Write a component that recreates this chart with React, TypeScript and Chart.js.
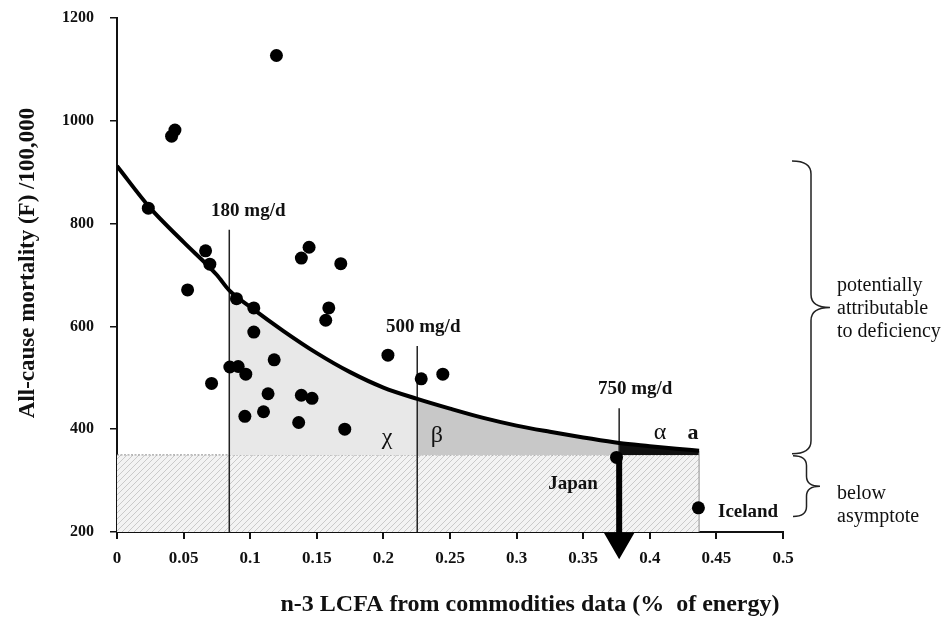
import React, { useEffect, useRef } from "react";
import { Chart, registerables } from "chart.js";

Chart.register(...registerables);

const FONT = "'Liberation Serif', 'Times New Roman', Times, serif";

// Country observations: n-3 LCFA (% of energy) vs all-cause mortality (F) /100,000
const countryX = [
  0.0235, 0.041, 0.0435, 0.053, 0.0665, 0.0697, 0.071, 0.0847, 0.0897, 0.091,
  0.0967, 0.096, 0.1027, 0.1027, 0.11, 0.1134, 0.118, 0.1197, 0.1364, 0.1384,
  0.1384, 0.1442, 0.1464, 0.1567, 0.159, 0.168, 0.171, 0.2034, 0.2284, 0.2446,
  0.375, 0.4365,
];
const countryY = [
  830, 970, 982, 671, 747, 721, 489, 521, 654, 522,
  507, 425, 636, 589, 434, 469, 535, 1127, 413, 466,
  733, 754, 460, 612, 636, 722, 400, 544, 498, 507,
  345, 247,
];

// Fitted curve
const curveX = [
  0, 0.025, 0.05, 0.075, 0.0843, 0.1, 0.125, 0.15, 0.175, 0.2,
  0.2254, 0.25, 0.275, 0.3, 0.325, 0.35, 0.377, 0.4, 0.42, 0.437,
];
const curveY = [
  912, 830, 764, 700, 670, 638, 591, 548, 511, 481,
  459, 440, 422, 407, 395, 384, 373, 367, 362, 358,
];

const asymptoteY = 350;
const axisMinY = 200;
const hatchEndX = 0.437;

// Intake reference lines (180, 500, 750 mg/d)
const intakeX = [0.0843, 0.2254, 0.377];
const intakeTopY = [788, 562, 441];
const intakeText = ["180 mg/d", "500 mg/d", "750 mg/d"];

// Japan arrow
const arrowX = 0.377;
const arrowStartY = 345;
const arrowEndY = 181;

// Axis ticks
const xMin = 0;
const xMax = 0.5;
const xStep = 0.05;
const yMin = 200;
const yMax = 1200;
const yStep = 200;

// Braces on the right (values on the mortality scale)
const braceTop = [922, 352];
const braceBottom = [352, 230];

type Pt = { x: number; y: number };

function curveSegment(x0: number, x1: number): Pt[] {
  const pts: Pt[] = [];
  for (let i = 0; i < curveX.length; i++) {
    if (curveX[i] >= x0 - 1e-9 && curveX[i] <= x1 + 1e-9) pts.push({ x: curveX[i], y: curveY[i] });
  }
  return pts;
}

function makeHatch(): CanvasPattern | string {
  const c = document.createElement("canvas");
  const s = 6;
  c.width = s;
  c.height = s;
  const g = c.getContext("2d");
  if (!g) return "#eeeeee";
  g.fillStyle = "#f3f3f3";
  g.fillRect(0, 0, s, s);
  g.strokeStyle = "#b8b8b8";
  g.lineWidth = 0.7;
  g.beginPath();
  g.moveTo(0, s);
  g.lineTo(s, 0);
  g.moveTo(-1, 1);
  g.lineTo(1, -1);
  g.moveTo(s - 1, s + 1);
  g.lineTo(s + 1, s - 1);
  g.stroke();
  const p = g.createPattern(c, "repeat");
  return p || "#eeeeee";
}

function drawBrace(
  ctx: CanvasRenderingContext2D,
  xEnd: number,
  xTip: number,
  yTop: number,
  yBot: number,
  r: number
) {
  const xs = (xEnd + xTip) / 2;
  const yMid = (yTop + yBot) / 2;
  ctx.beginPath();
  ctx.moveTo(xEnd, yTop);
  ctx.quadraticCurveTo(xs, yTop, xs, yTop + r);
  ctx.lineTo(xs, yMid - r);
  ctx.quadraticCurveTo(xs, yMid, xTip, yMid);
  ctx.quadraticCurveTo(xs, yMid, xs, yMid + r);
  ctx.lineTo(xs, yBot - r);
  ctx.quadraticCurveTo(xs, yBot, xEnd, yBot);
  ctx.stroke();
}

const annotationPlugin = {
  id: "annotations",
  afterDraw(chart: any) {
    const { ctx, scales } = chart;
    const xs = scales.x;
    const ys = scales.y;
    const area = chart.chartArea;
    ctx.save();
    ctx.fillStyle = "#111";
    ctx.textAlign = "center";
    ctx.textBaseline = "middle";

    // intake labels
    const dx = [19, 6, 16];
    ctx.font = `bold 19px ${FONT}`;
    for (let i = 0; i < intakeX.length; i++) {
      const px = xs.getPixelForValue(intakeX[i]);
      const py = ys.getPixelForValue(intakeTopY[i]);
      ctx.fillText(intakeText[i], px + dx[i], py - 19);
    }

    // Greek region labels
    ctx.font = `24px ${FONT}`;
    ctx.fillText("χ", xs.getPixelForValue(0.2027), ys.getPixelForValue(384));
    ctx.fillText("β", xs.getPixelForValue(0.2402), ys.getPixelForValue(388));
    ctx.fillText("α", xs.getPixelForValue(0.4076), ys.getPixelForValue(394));
    ctx.font = `bold 22px ${FONT}`;
    ctx.fillText("a", xs.getPixelForValue(0.4324), ys.getPixelForValue(392));

    // country labels
    ctx.font = `bold 19px ${FONT}`;
    ctx.fillText("Japan", xs.getPixelForValue(0.3423), ys.getPixelForValue(293));
    ctx.textAlign = "left";
    ctx.fillText("Iceland", xs.getPixelForValue(0.4512), ys.getPixelForValue(239));

    // braces
    ctx.strokeStyle = "#222";
    ctx.lineWidth = 1.5;
    const r = area.right;
    const t0 = ys.getPixelForValue(braceTop[0]);
    const b0 = ys.getPixelForValue(braceBottom[0]);
    drawBrace(ctx, r + 9, r + 47, t0, b0, 13);
    const t1 = ys.getPixelForValue(braceTop[1]) + 2;
    const b1 = ys.getPixelForValue(braceBottom[1]);
    drawBrace(ctx, r + 10, r + 37, t1, b1, 10);

    ctx.font = `20px ${FONT}`;
    ctx.textAlign = "left";
    const m0 = (t0 + b0) / 2;
    ctx.fillText("potentially", r + 54, m0 - 22);
    ctx.fillText("attributable", r + 54, m0 + 1);
    ctx.fillText("to deficiency", r + 54, m0 + 24);
    const m1 = (t1 + b1) / 2;
    ctx.fillText("below", r + 54, m1 + 8);
    ctx.fillText("asymptote", r + 54, m1 + 31);

    // axis titles
    ctx.textAlign = "center";
    ctx.font = `bold 24px ${FONT}`;
    ctx.fillText("n-3 LCFA from commodities data (%  of energy)", 530, 605);
    ctx.save();
    ctx.translate(28, (area.top + area.bottom) / 2 - 12);
    ctx.rotate(-Math.PI / 2);
    ctx.font = `bold 23px ${FONT}`;
    ctx.fillText("All-cause mortality (F) /100,000", 0, 0);
    ctx.restore();

    ctx.restore();
  },
};

export default function App() {
  const ref = useRef<HTMLCanvasElement | null>(null);

  useEffect(() => {
    if (!ref.current) return;
    Chart.defaults.font.family = FONT;
    const hatch = makeHatch();

    const scatterPts = countryX.map((x, i) => ({ x, y: countryY[i] }));
    const curvePts = curveX.map((x, i) => ({ x, y: curveY[i] }));

    const lineBase = {
      type: "line" as const,
      pointRadius: 0,
      fill: false,
      tension: 0,
    };

    const datasets: any[] = [
      {
        type: "scatter",
        data: scatterPts,
        pointRadius: 6.5,
        pointBackgroundColor: "#000",
        pointBorderColor: "#000",
        pointBorderWidth: 0,
        order: 0,
      },
      {
        ...lineBase,
        data: curvePts,
        borderColor: "#000",
        borderWidth: 4,
        cubicInterpolationMode: "monotone",
        order: 1,
      },
      {
        ...lineBase,
        data: [
          { x: arrowX, y: arrowStartY },
          { x: arrowX, y: arrowEndY },
        ],
        borderColor: "#000",
        borderWidth: 6,
        pointRadius: [0, 11.5],
        pointStyle: "triangle",
        pointRotation: 180,
        pointBackgroundColor: "#000",
        pointBorderColor: "#000",
        clip: false,
        order: 2,
      },
      ...intakeX.map((x, i) => ({
        ...lineBase,
        data: [
          { x, y: axisMinY },
          { x, y: intakeTopY[i] },
        ],
        borderColor: "#222",
        borderWidth: 1.5,
        order: 3,
      })),
      {
        ...lineBase,
        data: [
          { x: hatchEndX, y: axisMinY },
          { x: hatchEndX, y: curveY[curveY.length - 1] },
        ],
        borderColor: "#8c8c8c",
        borderWidth: 1,
        order: 3,
      },
      {
        ...lineBase,
        data: curveSegment(intakeX[2], hatchEndX),
        borderWidth: 0,
        borderColor: "rgba(0,0,0,0)",
        backgroundColor: "#111",
        cubicInterpolationMode: "monotone",
        fill: { value: asymptoteY },
        order: 4,
      },
      {
        ...lineBase,
        data: curveSegment(intakeX[1], intakeX[2]),
        borderWidth: 0,
        borderColor: "rgba(0,0,0,0)",
        backgroundColor: "#c8c8c8",
        cubicInterpolationMode: "monotone",
        fill: { value: asymptoteY },
        order: 4,
      },
      {
        ...lineBase,
        data: curveSegment(intakeX[0], intakeX[1]),
        borderWidth: 0,
        borderColor: "rgba(0,0,0,0)",
        backgroundColor: "#e8e8e8",
        cubicInterpolationMode: "monotone",
        fill: { value: asymptoteY },
        order: 4,
      },
      {
        ...lineBase,
        data: [
          { x: xMin, y: asymptoteY },
          { x: hatchEndX, y: asymptoteY },
        ],
        borderColor: "#8c8c8c",
        borderWidth: 1,
        borderDash: [2, 1.5],
        backgroundColor: hatch,
        fill: "start",
        order: 5,
      },
    ];

    const chart = new Chart(ref.current, {
      type: "line",
      data: { datasets },
      plugins: [annotationPlugin],
      options: {
        animation: false,
        responsive: false,
        devicePixelRatio: window.devicePixelRatio || 1,
        layout: { padding: { top: 18, right: 167, bottom: 0, left: 0 } },
        plugins: {
          legend: { display: false },
          tooltip: { enabled: false },
        },
        scales: {
          x: {
            type: "linear",
            min: xMin,
            max: xMax,
            ticks: {
              stepSize: xStep,
              font: { family: FONT, weight: "bold", size: 17 },
              color: "#111",
              padding: 9,
              maxRotation: 0,
              autoSkip: false,
              callback: (v: any) => String(Math.round(Number(v) * 100) / 100),
            },
            grid: {
              display: true,
              drawOnChartArea: false,
              drawTicks: true,
              tickLength: 7,
              color: "#111",
              lineWidth: 2,
            },
            border: { display: true, color: "#111", width: 2 },
            afterFit: (s: any) => {
              s.height = 89;
              s.paddingLeft = 0;
              s.paddingRight = 0;
            },
          },
          y: {
            type: "linear",
            min: yMin,
            max: yMax,
            ticks: {
              stepSize: yStep,
              font: { family: FONT, weight: "bold", size: 16 },
              color: "#111",
              padding: 16,
              callback: (v: any) => String(v),
            },
            grid: {
              display: true,
              drawOnChartArea: false,
              drawTicks: true,
              tickLength: 7,
              color: "#111",
              lineWidth: 1.5,
            },
            border: { display: true, color: "#111", width: 2 },
            afterFit: (s: any) => {
              s.width = 117;
              s.paddingTop = 0;
              s.paddingBottom = 0;
            },
          },
        },
      } as any,
    });

    return () => {
      chart.destroy();
    };
  }, []);

  return (
    <div style={{ position: "fixed", left: 0, top: 0, width: 950, height: 621, background: "#fff" }}>
      <canvas ref={ref} width={950} height={621} style={{ display: "block", width: 950, height: 621 }} />
    </div>
  );
}
